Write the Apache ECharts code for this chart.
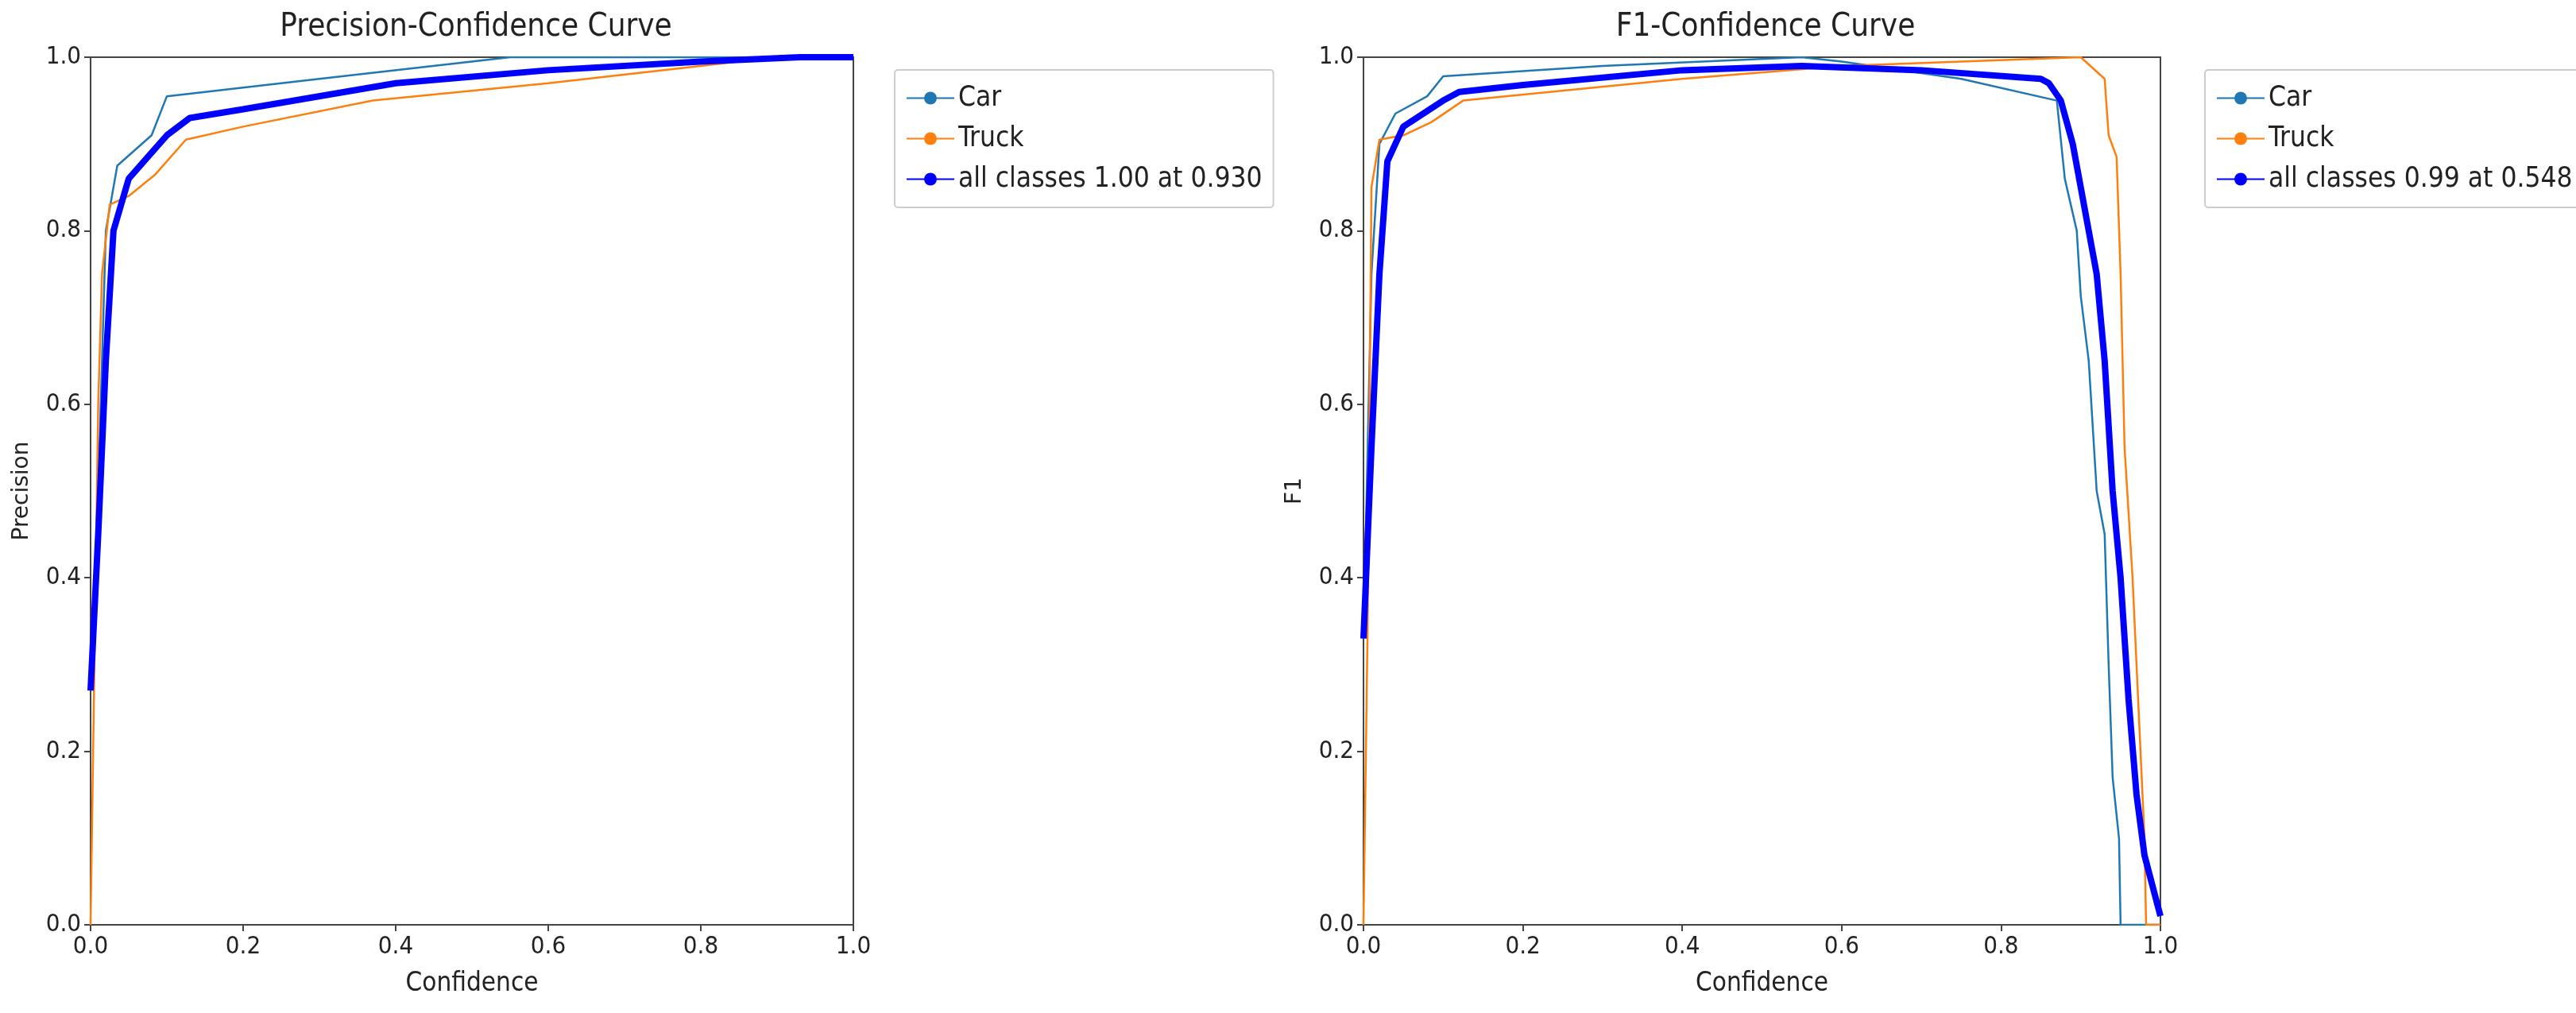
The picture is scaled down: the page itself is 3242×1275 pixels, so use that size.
<!DOCTYPE html>
<html><head><meta charset="utf-8">
<script src="https://cdn.jsdelivr.net/npm/echarts@6/dist/echarts.min.js"></script>
<style>html,body{margin:0;background:#fff}#c{width:3242px;height:1275px}</style>
</head><body><div id="c"></div>
<script>
// Precision-Confidence
const pcCar = [[0,0.27],[0.005,0.35],[0.02,0.8],[0.035,0.875],[0.08,0.91],[0.1,0.955],[0.3,0.975],[0.55,1.0],[1,1]];
const pcTruck = [[0,0],[0.005,0.3],[0.01,0.6],[0.015,0.75],[0.025,0.83],[0.05,0.84],[0.085,0.865],[0.125,0.905],[0.2,0.92],[0.37,0.95],[0.6,0.97],[0.85,0.995],[0.9,1],[1,1]];
const pcAll = [[0,0.27],[0.01,0.45],[0.02,0.65],[0.03,0.8],[0.05,0.86],[0.08,0.89],[0.1,0.91],[0.13,0.93],[0.2,0.94],[0.4,0.97],[0.6,0.985],[0.8,0.995],[0.93,1],[1,1]];
// F1-Confidence
const f1Car = [[0,0.33],[0.01,0.75],[0.02,0.9],[0.04,0.935],[0.08,0.955],[0.1,0.978],[0.3,0.99],[0.55,1.0],[0.6,0.995],[0.75,0.975],[0.87,0.95],[0.88,0.86],[0.895,0.8],[0.9,0.725],[0.91,0.65],[0.92,0.5],[0.93,0.45],[0.935,0.3],[0.94,0.17],[0.948,0.1],[0.95,0],[1,0]];
const f1Truck = [[0,0],[0.005,0.33],[0.01,0.85],[0.02,0.905],[0.05,0.91],[0.085,0.925],[0.125,0.95],[0.4,0.975],[0.6,0.99],[0.9,1.0],[0.93,0.975],[0.935,0.91],[0.945,0.885],[0.95,0.75],[0.955,0.55],[0.965,0.4],[0.98,0.1],[0.982,0],[1,0]];
const f1All = [[0,0.33],[0.01,0.55],[0.02,0.75],[0.03,0.88],[0.05,0.92],[0.1,0.95],[0.12,0.96],[0.2,0.968],[0.4,0.985],[0.55,0.99],[0.7,0.985],[0.85,0.975],[0.86,0.97],[0.875,0.95],[0.89,0.9],[0.9,0.85],[0.91,0.8],[0.92,0.75],[0.93,0.65],[0.94,0.5],[0.95,0.4],[0.96,0.26],[0.97,0.15],[0.98,0.08],[1,0.01]];

const font = '"Liberation Sans Narrow","DejaVu Sans Condensed","Liberation Sans",sans-serif';
const txt = {fontFamily: font, fontSize: 31, color: '#222'};
function axis(gi, name, isY) {
  return {
    type: 'value', gridIndex: gi, min: 0, max: 1, interval: 0.2,
    name: name, nameLocation: 'middle', nameGap: isY ? 72 : 58,
    nameTextStyle: isY ? {fontFamily: '"DejaVu Sans",sans-serif', fontSize: 28, color: '#222'} : Object.assign({}, txt, {fontSize: 33}),
    axisLine: {lineStyle: {color: '#444', width: 2}},
    axisTick: {show: true, length: 8, lineStyle: {color: '#444', width: 2}},
    axisLabel: Object.assign({formatter: v => v.toFixed(1), margin: 12}, txt),
    splitLine: {show: false}
  };
}
function line(name, data, gi, color, w) {
  return {name: name, type: 'line', data: data, xAxisIndex: gi, yAxisIndex: gi,
    showSymbol: false, symbol: 'none', lineStyle: {color: color, width: w}, itemStyle: {color: color}, z: w > 3 ? 3 : 2};
}
const leg = (left, names) => ({
  data: names, orient: 'vertical', left: left, top: 88, itemWidth: 60, itemHeight: 20, itemGap: 16,
  padding: [18, 14, 18, 14], borderColor: '#ccc', borderWidth: 2, borderRadius: 4,
  textStyle: Object.assign({}, txt, {fontSize: 35})
});
const chart = echarts.init(document.getElementById('c'));
chart.setOption({
  animation: false,
  title: [
    {text: 'Precision-Confidence Curve', left: 594, top: 10, textAlign: 'center', textStyle: Object.assign({}, txt, {fontSize: 40, fontWeight: 'normal'})},
    {text: 'F1-Confidence Curve', left: 2217, top: 10, textAlign: 'center', textStyle: Object.assign({}, txt, {fontSize: 40, fontWeight: 'normal'})}
  ],
  grid: [
    {left: 114, top: 72, width: 960, height: 1092, show: true, borderColor: '#444', borderWidth: 2},
    {left: 1716, top: 72, width: 1003, height: 1092, show: true, borderColor: '#444', borderWidth: 2}
  ],
  legend: [
    leg(1126, ['Car', 'Truck', 'all classes 1.00 at 0.930']),
    leg(2775, ['Car ', 'Truck ', 'all classes 0.99 at 0.548'])
  ],
  xAxis: [axis(0, 'Confidence', false), axis(1, 'Confidence', false)],
  yAxis: [axis(0, 'Precision', true), axis(1, 'F1', true)],
  series: [
    line('Car', pcCar, 0, '#1f77b4', 2.5),
    line('Truck', pcTruck, 0, '#ff7f0e', 2.5),
    line('all classes 1.00 at 0.930', pcAll, 0, '#0000ff', 8),
    line('Car ', f1Car, 1, '#1f77b4', 2.5),
    line('Truck ', f1Truck, 1, '#ff7f0e', 2.5),
    line('all classes 0.99 at 0.548', f1All, 1, '#0000ff', 8)
  ]
});
</script></body></html>
